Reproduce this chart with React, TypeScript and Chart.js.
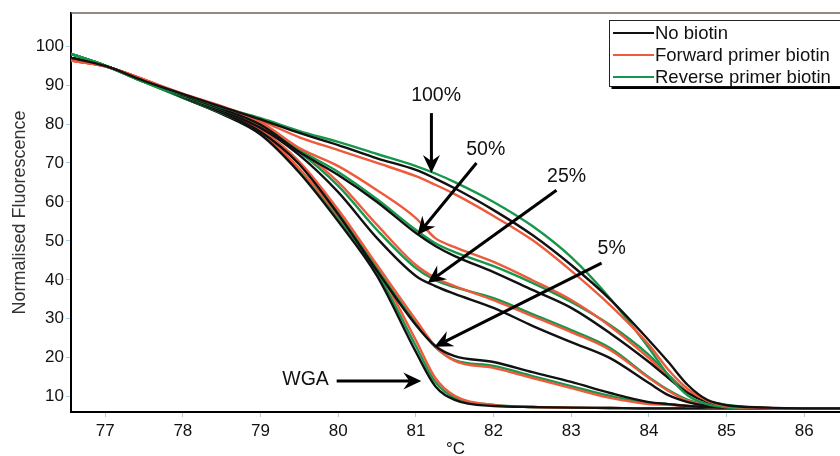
import React, { useEffect, useRef } from "react";
import { Chart, registerables } from "chart.js";

Chart.register(...registerables);

// ---------- data ----------
const temps = [76.56, 77, 77.5, 78, 78.5, 79, 79.5, 80, 80.5, 81, 81.25, 81.5, 82, 82.5, 83, 83.5, 84, 84.25, 84.5, 84.75, 85, 85.5, 86, 86.46];

const xTicks = [77, 78, 79, 80, 81, 82, 83, 84, 85, 86];
const yTicks = [10, 20, 30, 40, 50, 60, 70, 80, 90, 100];

const legendLabels = ["No biotin", "Forward primer biotin", "Reverse primer biotin"];
const seriesColors = ["#111111", "#ee5a3c", "#17974b"];

// 100%
const noBiotin100 = [97.0, 94.9, 91.1, 87.7, 84.4, 81.2, 77.7, 74.6, 71.2, 68.2, 66.0, 63.5, 57.9, 51.5, 43.8, 35.0, 24.5, 18.9, 13.0, 9.2, 7.8, 7.2, 7.0, 7.0];
const fwd100 = [96.3, 94.8, 91.4, 87.8, 84.6, 80.9, 76.6, 73.3, 70.0, 66.6, 64.4, 62.0, 56.4, 50.2, 42.3, 33.5, 23.3, 16.9, 12.0, 8.9, 7.6, 7.1, 7.0, 7.0];
const rev100 = [98.0, 95.0, 90.8, 87.6, 84.3, 81.5, 78.2, 75.4, 72.3, 69.2, 67.3, 65.1, 60.0, 53.8, 45.8, 35.2, 22.5, 15.5, 10.3, 8.1, 7.3, 7.0, 6.9, 6.9];
// 50%
const noBiotin50 = [97.0, 94.9, 91.1, 87.4, 83.9, 79.8, 72.8, 66.9, 60.0, 52.0, 48.7, 46.1, 42.0, 37.4, 32.8, 26.3, 18.9, 14.8, 10.95, 8.6, 7.6, 7.1, 7.0, 7.0];
const fwd50 = [96.3, 94.8, 91.4, 87.5, 84.1, 80.5, 73.8, 69.2, 63.0, 55.85, 50.7, 48.4, 44.6, 39.9, 34.8, 28.1, 19.9, 15.3, 11.2, 8.9, 7.6, 7.1, 7.0, 7.0];
const rev50 = [98.0, 95.0, 90.8, 87.2, 83.8, 80.0, 73.3, 67.7, 60.7, 52.8, 49.4, 47.1, 43.5, 39.2, 34.3, 28.4, 20.7, 15.6, 11.2, 8.9, 7.9, 7.1, 6.9, 6.9];
// 25%
const noBiotin25 = [97.0, 94.9, 91.1, 87.1, 83.4, 79.0, 72.0, 62.5, 50.7, 41.0, 38.4, 36.4, 32.8, 28.2, 24.0, 19.9, 13.5, 10.4, 8.6, 7.6, 7.2, 7.0, 7.0, 7.0];
const fwd25 = [96.3, 94.8, 91.4, 87.3, 83.6, 79.4, 73.3, 65.1, 54.1, 43.8, 40.5, 38.4, 34.8, 30.7, 26.6, 22.0, 14.8, 11.5, 8.9, 7.9, 7.3, 7.0, 7.0, 7.0];
const rev25 = [98.0, 95.0, 90.8, 87.0, 83.4, 79.2, 72.8, 64.1, 52.8, 43.0, 39.9, 38.1, 35.3, 31.2, 27.1, 22.5, 15.0, 11.7, 9.2, 7.9, 7.3, 7.0, 6.9, 6.9];
// 5%
const noBiotin5 = [97.0, 94.9, 91.1, 86.9, 82.9, 78.0, 69.6, 56.8, 42.3, 28.4, 23.0, 20.4, 18.9, 16.3, 13.8, 10.95, 8.6, 8.1, 7.6, 7.35, 7.2, 7.0, 7.0, 7.0];
const fwd5 = [96.3, 94.8, 91.4, 87.0, 83.0, 78.5, 70.3, 58.0, 43.8, 29.7, 23.0, 19.2, 17.4, 14.8, 12.2, 9.7, 8.1, 7.9, 7.6, 7.35, 7.2, 7.0, 7.0, 7.0];
const rev5 = [98.0, 95.0, 90.8, 86.8, 82.8, 78.2, 69.8, 57.3, 42.8, 28.9, 22.75, 19.4, 17.9, 15.3, 12.7, 10.2, 8.4, 8.1, 7.6, 7.35, 7.2, 7.0, 6.9, 6.9];
// WGA
const noBiotinWGA = [97.0, 94.9, 91.1, 86.8, 82.6, 77.3, 67.5, 55.0, 41.0, 21.5, 12.7, 9.2, 7.6, 7.35, 7.2, 7.1, 7.0, 7.0, 7.0, 7.0, 7.0, 7.0, 7.0, 7.0];
const fwdWGA = [96.3, 94.8, 91.4, 86.9, 82.8, 77.8, 68.5, 56.5, 43.0, 24.5, 14.8, 10.2, 7.9, 7.35, 7.2, 7.1, 7.0, 7.0, 7.0, 7.0, 7.0, 7.0, 7.0, 7.0];
const revWGA = [98.0, 95.0, 90.8, 86.7, 82.7, 77.5, 68.0, 55.8, 42.0, 23.0, 13.8, 9.7, 7.9, 7.35, 7.2, 7.1, 7.0, 7.0, 7.0, 7.0, 7.0, 7.0, 6.9, 6.9];

// annotation labels (data coordinates)
const annLabels = ["100%", "50%", "25%", "5%", "WGA"];
const annTextX = [81.26, 81.9, 82.94, 83.52, 79.58];
const annTextY = [87.4, 73.5, 66.6, 47.9, 14.3];
const arrowFromX = [81.2, 81.78, 82.81, 83.39, 79.98];
const arrowFromY = [82.8, 70.0, 63.0, 44.3, 14.0];
const arrowToX = [81.2, 81.02, 81.15, 81.24, 81.07];
const arrowToY = [67.4, 51.5, 39.2, 22.8, 14.0];

const X_MIN = 76.56;
const X_MAX = 86.46;
const Y_MIN = 6.07;
const Y_MAX = 108.5;

const FONT = "'Liberation Sans', Arial, Helvetica, sans-serif";

const families = [
  [noBiotin100, fwd100, rev100],
  [noBiotin50, fwd50, rev50],
  [noBiotin25, fwd25, rev25],
  [noBiotin5, fwd5, rev5],
  [noBiotinWGA, fwdWGA, revWGA],
];

function drawArrow(ctx: CanvasRenderingContext2D, x1: number, y1: number, x2: number, y2: number) {
  const ang = Math.atan2(y2 - y1, x2 - x1);
  const L = 18, W = 8.5, N = 6;
  ctx.save();
  ctx.strokeStyle = "#000";
  ctx.fillStyle = "#000";
  ctx.lineWidth = 3;
  ctx.beginPath();
  ctx.moveTo(x1, y1);
  ctx.lineTo(x2 - Math.cos(ang) * (L - N), y2 - Math.sin(ang) * (L - N));
  ctx.stroke();
  ctx.translate(x2, y2);
  ctx.rotate(ang);
  ctx.beginPath();
  ctx.moveTo(0, 0);
  ctx.lineTo(-L, -W);
  ctx.lineTo(-L + N, 0);
  ctx.lineTo(-L, W);
  ctx.closePath();
  ctx.fill();
  ctx.restore();
}

const decorPlugin = {
  id: "decor",
  afterDatasetsDraw(chart: any) {
    const ctx: CanvasRenderingContext2D = chart.ctx;
    const xs = chart.scales.x;
    const ys = chart.scales.y;
    const area = chart.chartArea;
    ctx.save();
    ctx.strokeStyle = "#6f625c";
    ctx.lineWidth = 1.5;
    ctx.beginPath();
    ctx.moveTo(area.left, area.top);
    ctx.lineTo(area.right, area.top);
    ctx.stroke();
    ctx.restore();

    for (let i = 0; i < annLabels.length; i++) {
      drawArrow(
        ctx,
        xs.getPixelForValue(arrowFromX[i]),
        ys.getPixelForValue(arrowFromY[i]),
        xs.getPixelForValue(arrowToX[i]),
        ys.getPixelForValue(arrowToY[i])
      );
      ctx.save();
      ctx.fillStyle = "#111";
      ctx.font = `19.5px ${FONT}`;
      ctx.textAlign = "center";
      ctx.textBaseline = "middle";
      ctx.fillText(annLabels[i], xs.getPixelForValue(annTextX[i]), ys.getPixelForValue(annTextY[i]));
      ctx.restore();
    }
  },
  afterDraw(chart: any) {
    const ctx: CanvasRenderingContext2D = chart.ctx;
    const bx = 609.5, by = 20.5, bw = 240, bh = 66;
    ctx.save();
    ctx.fillStyle = "#fff";
    ctx.fillRect(bx, by, bw, bh);
    ctx.strokeStyle = "#222";
    ctx.lineWidth = 1;
    ctx.strokeRect(bx, by, bw, bh);
    ctx.fillStyle = "#000";
    ctx.fillRect(bx + 2, by + bh, bw, 2.5);
    const rows = [33, 55, 77];
    for (let i = 0; i < legendLabels.length; i++) {
      ctx.strokeStyle = seriesColors[i];
      ctx.lineWidth = 2;
      ctx.beginPath();
      ctx.moveTo(613, rows[i]);
      ctx.lineTo(654, rows[i]);
      ctx.stroke();
      ctx.fillStyle = "#111";
      ctx.font = `18.5px ${FONT}`;
      ctx.textAlign = "left";
      ctx.textBaseline = "middle";
      ctx.fillText(legendLabels[i], 655, rows[i] + 1);
    }
    ctx.restore();
  },
};

export default function App() {
  const ref = useRef<HTMLCanvasElement>(null);
  useEffect(() => {
    document.body.style.margin = "0";
    document.body.style.background = "#ffffff";
    Chart.defaults.font.family = FONT;
    const datasets: any[] = [];
    families.forEach((fam) => {
      fam.forEach((arr, si) => {
        datasets.push({
          label: legendLabels[si],
          data: temps.map((t, i) => ({ x: t, y: arr[i] })),
          borderColor: seriesColors[si],
          backgroundColor: seriesColors[si],
          borderWidth: 2.4,
          pointRadius: 0,
          fill: false,
          cubicInterpolationMode: "monotone",
        });
      });
    });
    const chart = new Chart(ref.current as HTMLCanvasElement, {
      type: "line",
      data: { datasets },
      plugins: [decorPlugin],
      options: {
        animation: false,
        responsive: false,
        devicePixelRatio: 1,
        layout: { padding: { top: 13, right: 0, bottom: 0, left: 0 } },
        plugins: { legend: { display: false }, tooltip: { enabled: false } },
        scales: {
          x: {
            type: "linear",
            min: X_MIN,
            max: X_MAX,
            afterBuildTicks: (s: any) => {
              s.ticks = xTicks.map((v) => ({ value: v }));
            },
            afterFit: (s: any) => {
              s.height = 44;
            },
            grid: { display: true, drawOnChartArea: false, drawTicks: true, tickLength: 5, tickColor: "#a8cfe6", tickWidth: 1 },
            border: { display: true, color: "#000", width: 2 },
            ticks: { color: "#111", font: { size: 17 }, padding: 4, maxRotation: 0, autoSkip: false },
            title: { display: true, text: "°C", color: "#111", font: { size: 17, lineHeight: 0.8 }, padding: 0 },
          },
          y: {
            type: "linear",
            min: Y_MIN,
            max: Y_MAX,
            afterBuildTicks: (s: any) => {
              s.ticks = yTicks.map((v) => ({ value: v }));
            },
            afterFit: (s: any) => {
              s.width = 71;
            },
            grid: { display: true, drawOnChartArea: false, drawTicks: true, tickLength: 5, tickColor: "#a8cfe6", tickWidth: 1 },
            border: { display: true, color: "#000", width: 2 },
            ticks: { color: "#111", font: { size: 17 }, padding: 2, autoSkip: false },
            title: { display: true, text: "Normalised Fluorescence", color: "#333", font: { size: 18, lineHeight: 1.2 }, padding: { top: 9, bottom: 0 } },
          },
        },
      } as any,
    });
    return () => chart.destroy();
  }, []);
  return (
    <div style={{ width: 840, height: 456, background: "#fff" }}>
      <canvas ref={ref} width={840} height={456} style={{ display: "block", width: 840, height: 456 }} />
    </div>
  );
}
